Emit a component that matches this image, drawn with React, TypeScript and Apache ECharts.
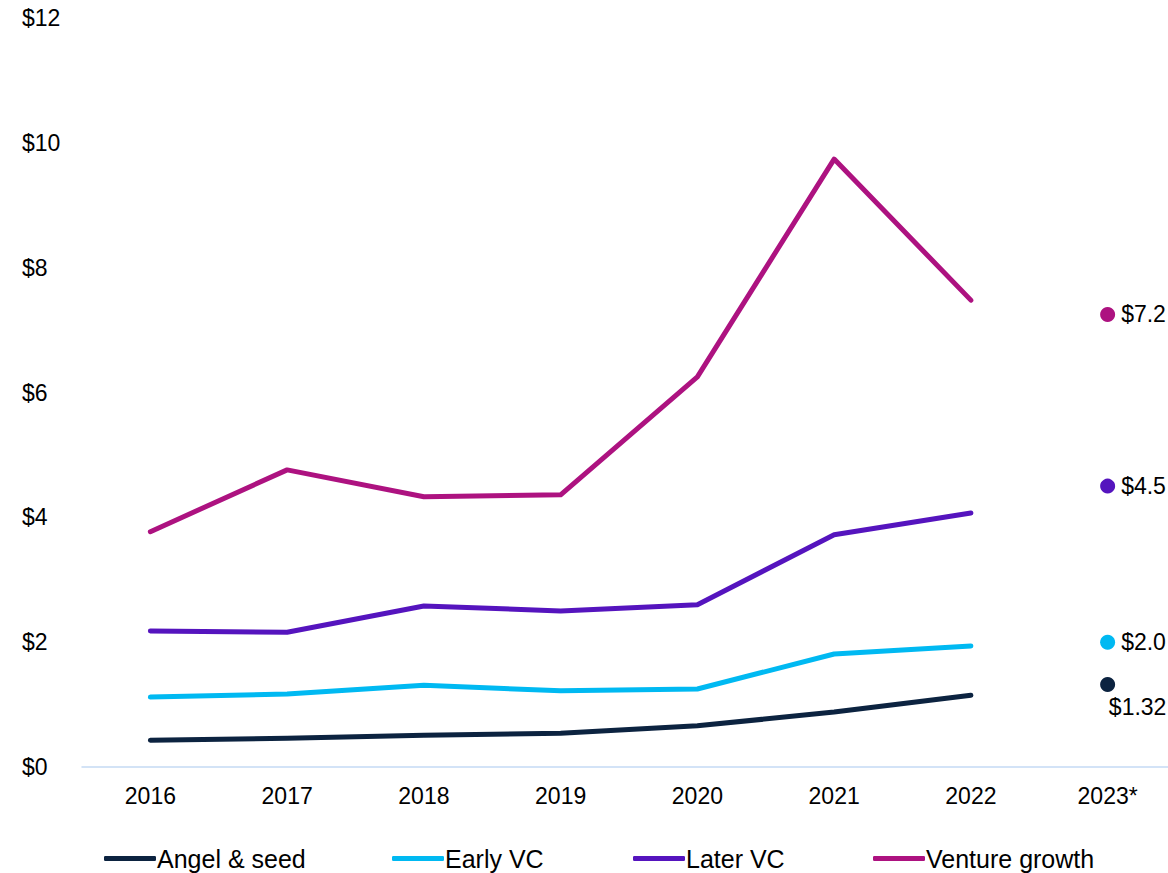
import React, { useEffect, useRef } from "react";
import * as echarts from "echarts";

const categories = ["2016", "2017", "2018", "2019", "2020", "2021", "2022", "2023*"];
const seriesNames = ["Angel & seed", "Early VC", "Later VC", "Venture growth"];
const angelSeed = [0.43, 0.46, 0.51, 0.54, 0.66, 0.88, 1.15];
const earlyVC = [1.12, 1.17, 1.31, 1.22, 1.25, 1.81, 1.94];
const laterVC = [2.18, 2.16, 2.58, 2.5, 2.6, 3.72, 4.07];
const ventureGrowth = [3.77, 4.76, 4.33, 4.36, 6.25, 9.74, 7.48];
const estimates2023 = [1.32, 2.0, 4.5, 7.25];
const estimateLabels = ["$1.32", "$2.0", "$4.5", "$7.2"];
const yTicks = [0, 2, 4, 6, 8, 10, 12];

const colors = ["#0c2340", "#00b9f2", "#5514be", "#ad1280"];
const legendLefts = [99, 387, 628, 868];
const FONT = "'Liberation Sans', Arial, sans-serif";

export default function App() {
  const ref = useRef<HTMLDivElement>(null);
  useEffect(() => {
    if (!ref.current) return;
    const chart = echarts.init(ref.current, null, { renderer: "svg" });
    const lineData = [angelSeed, earlyVC, laterVC, ventureGrowth];
    const lines = seriesNames.map((name, i) => ({
      name,
      type: "line",
      data: lineData[i],
      showSymbol: false,
      symbol: "none",
      lineStyle: { width: 5, color: colors[i], cap: "round", join: "round" },
      itemStyle: { color: colors[i] },
      z: 2,
    }));
    const dots = seriesNames.map((name, i) => ({
      name: name + " 2023",
      type: "scatter",
      data: [[7, estimates2023[i]]],
      symbol: "circle",
      symbolSize: 15,
      itemStyle: { color: colors[i], opacity: 1 },
      label: {
        show: true,
        formatter: estimateLabels[i],
        position: i === 0 ? "bottom" : "right",
        offset: i === 0 ? [30, 0] : [0, 0],
        distance: i === 0 ? 3 : 6,
        color: "#000",
        fontSize: 23,
        fontFamily: FONT,
      },
      z: 3,
    }));
    const legends = seriesNames.map((n, i) => ({
      data: [{ name: n, itemStyle: { color: colors[i] } }],
      top: 841,
      left: legendLefts[i],
      itemWidth: 52,
      itemHeight: 5,
      icon: "roundRect",
      textStyle: { fontSize: 25, color: "#000", padding: [0, 0, 0, -4], fontFamily: FONT },
    }));
    chart.setOption({
      animation: false,
      textStyle: { fontFamily: FONT },
      grid: { left: 82, right: 0, top: 18, bottom: 106, containLabel: false },
      legend: legends,
      xAxis: {
        type: "category",
        data: categories,
        boundaryGap: true,
        axisLine: { lineStyle: { color: "#c5daf4", width: 1.5 } },
        axisTick: { show: false },
        axisLabel: { fontSize: 23, color: "#000", margin: 17, fontFamily: FONT },
      },
      yAxis: {
        type: "value",
        min: yTicks[0],
        max: yTicks[yTicks.length - 1],
        interval: 2,
        splitLine: { show: false },
        axisLine: { show: false },
        axisTick: { show: false },
        axisLabel: {
          fontSize: 23,
          color: "#000",
          align: "left",
          margin: 60,
          fontFamily: FONT,
          formatter: (v: number) => "$" + v,
        },
      },
      series: [...lines, ...dots],
    });
    return () => chart.dispose();
  }, []);
  return (
    <div style={{ position: "absolute", left: 0, top: 0, width: 1168, height: 873, overflow: "hidden" }}>
      <div ref={ref} style={{ width: 1176, height: 873 }} />
    </div>
  );
}
